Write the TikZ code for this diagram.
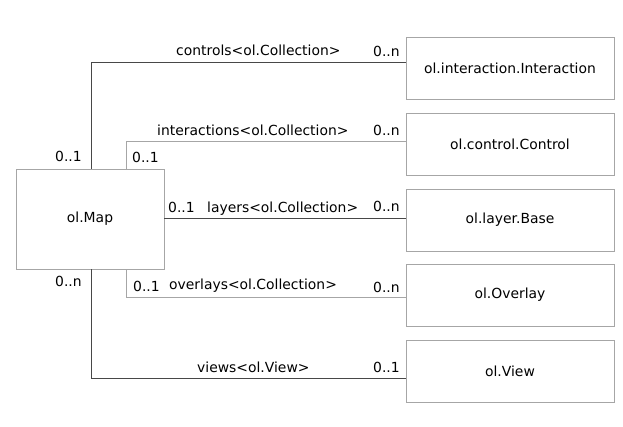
\documentclass[tikz,border=0pt]{standalone}
\usepackage{fontspec}
\setmainfont{DejaVu Sans}

\begin{document}
\begin{tikzpicture}[x=1pt,y=-1pt,
  every node/.style={font=\fontsize{13.9}{16}\selectfont},
  classbox/.style={rectangle,draw=black!35,line width=0.9pt,inner sep=0pt,
    minimum width=208pt,minimum height=62pt},
  mult/.style={anchor=base west,inner sep=0pt},
  darkline/.style={draw=black!72,line width=0.9pt},
  lightline/.style={draw=black!35,line width=0.9pt}]
\useasboundingbox (0,0) rectangle (623,427);

\node [classbox,minimum width=148pt,minimum height=100pt] (map) at (90,219) {ol.Map};
\node [classbox] (interaction) at (510,68) {ol.interaction.Interaction};
\node [classbox] (control) at (510,144) {ol.control.Control};
\node [classbox] (layer) at (510,220) {ol.layer.Base};
\node [classbox] (overlay) at (510,295) {ol.Overlay};
\node [classbox] (view) at (510,371) {ol.View};

% associations
\coordinate (c1) at (91,62);
\coordinate (c2) at (126,141);
\coordinate (c3) at (0,218);
\coordinate (c4) at (126,297);
\coordinate (c5) at (91,378);
\draw [darkline] (map.north -| c1) |- (c1 -| interaction.west);
\draw [lightline] (map.north -| c2) |- (c2 -| control.west);
\draw [darkline] (c3 -| map.east) -- (c3 -| layer.west);
\draw [lightline] (map.south -| c4) |- (c4 -| overlay.west);
\draw [darkline] (map.south -| c5) |- (c5 -| view.west);

% roles and multiplicities
\node [mult] (controls) at (176,56) {controls<ol.Collection>};
\node [mult] (controlsn) at (373,57) {0..n};
\node [mult] (controls1) at (55,162) {0..1};
\node [mult] (interactions) at (157,136) {interactions<ol.Collection>};
\node [mult] (interactionsn) at (373,136) {0..n};
\node [mult] (interactions1) at (132,163) {0..1};
\node [mult] (layers1) at (168,213) {0..1};
\node [mult] (layers) at (207,213) {layers<ol.Collection>};
\node [mult] (layersn) at (373,212) {0..n};
\node [mult] (viewsn) at (55,287) {0..n};
\node [mult] (overlays1) at (133,291) {0..1};
\node [mult] (overlays) at (169,290) {overlays<ol.Collection>};
\node [mult] (overlaysn) at (373,292) {0..n};
\node [mult] (views) at (197,372) {views<ol.View>};
\node [mult] (views1) at (373,372) {0..1};
\end{tikzpicture}
\end{document}
